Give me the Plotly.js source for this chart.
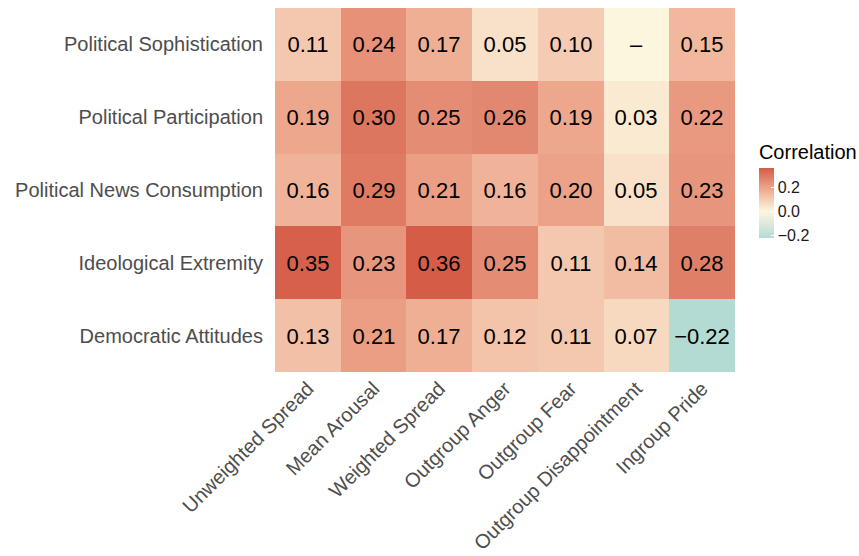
<!DOCTYPE html>
<html>
<head>
<meta charset="utf-8">
<script src="https://cdn.plot.ly/plotly-3.0.1.min.js"></script>
<style>html,body{margin:0;padding:0;background:#fff;}#chart{width:859px;height:556px;}</style>
</head>
<body>
<div id="chart"></div>
<script>
const outcomes = ["Political Sophistication", "Political Participation", "Political News Consumption", "Ideological Extremity", "Democratic Attitudes"];
const predictors = ["Unweighted Spread", "Mean Arousal", "Weighted Spread", "Outgroup Anger", "Outgroup Fear", "Outgroup Disappointment", "Ingroup Pride"];
const sophistication = [0.11, 0.24, 0.17, 0.05, 0.10, 0.00, 0.15];
const participation  = [0.19, 0.30, 0.25, 0.26, 0.19, 0.03, 0.22];
const newsConsumption = [0.16, 0.29, 0.21, 0.16, 0.20, 0.05, 0.23];
const extremity      = [0.35, 0.23, 0.36, 0.25, 0.11, 0.14, 0.28];
const democratic     = [0.13, 0.21, 0.17, 0.12, 0.11, 0.07, -0.22];
const colorbarTicks = [-0.2, 0.0, 0.2];
const colorbarTickText = ["\u22120.2", "0.0", "0.2"];

const z = [sophistication, participation, newsConsumption, extremity, democratic];
const labels = z.map(r => r.map(v => v === 0 ? "\u2013" : v.toFixed(2).replace("-", "\u2212")));
const zmin = -0.22, zmax = 0.36;
const p0 = (0 - zmin) / (zmax - zmin);
const pm = (0.18 - zmin) / (zmax - zmin);

const trace = {
  type: "heatmap",
  x: predictors,
  y: outcomes,
  z: z,
  text: labels,
  texttemplate: "%{text}",
  textfont: {family: "Liberation Sans, Arial, sans-serif", size: 22, color: "#000000"},
  hoverinfo: "skip",
  zmin: zmin, zmax: zmax,
  colorscale: [[0, "#b3dbd3"], [p0, "#fdf6df"], [pm, "#eeab90"], [1, "#d55c47"]],
  colorbar: {
    title: {text: "Correlation", side: "top", font: {family: "Liberation Sans, Arial, sans-serif", size: 20, color: "#000"}},
    x: 1.052, xanchor: "left", xpad: 0,
    y: 0.502, yanchor: "middle", ypad: 0,
    thickness: 15, thicknessmode: "pixels",
    len: 97, lenmode: "pixels",
    outlinewidth: 0,
    tickvals: colorbarTicks, ticktext: colorbarTickText,
    ticks: "inside", ticklen: 3, tickcolor: "#ffffff", tickwidth: 1,
    tickfont: {family: "Liberation Sans, Arial, sans-serif", size: 16, color: "#1a1a1a"}
  }
};

const layout = {
  width: 859, height: 556,
  margin: {l: 275, r: 124, t: 8, b: 184, autoexpand: false},
  paper_bgcolor: "#ffffff", plot_bgcolor: "#ffffff",
  font: {family: "Liberation Sans, Arial, sans-serif"},
  xaxis: {
    type: "category", tickangle: -45, showgrid: false, zeroline: false, showline: false,
    ticks: "", tickfont: {size: 20, color: "#4d4d4d"}
  },
  yaxis: {
    type: "category", autorange: "reversed", showgrid: false, zeroline: false, showline: false,
    ticks: "outside", ticklen: 7, tickcolor: "rgba(0,0,0,0)",
    tickfont: {size: 20, color: "#4d4d4d"}
  }
};

Plotly.newPlot("chart", [trace], layout, {displayModeBar: false, staticPlot: true});
</script>
</body>
</html>
